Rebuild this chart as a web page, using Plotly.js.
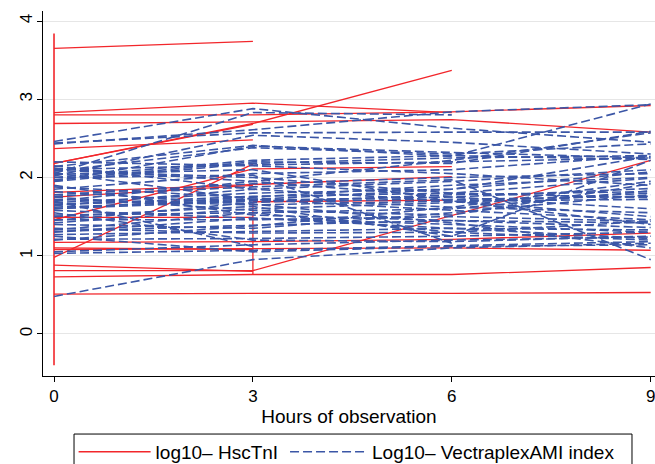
<!DOCTYPE html>
<html><head><meta charset="utf-8">
<script src="https://cdn.plot.ly/plotly-3.0.1.min.js"></script>
<style>html,body{margin:0;padding:0;background:#fff}#chart{width:655px;height:464px}</style>
</head><body><div id="chart"></div>
<script>
// Measurement hours
const hours = [0, 3, 6, 9];
const xTicks = [0, 3, 6, 9];
const yTicks = [0, 1, 2, 3, 4];
const xTitle = "Hours of observation";
const tnIName = "log10\u2013 HscTnI";
const vectraName = "Log10\u2013 VectraplexAMI index";

// log10 HscTnI per patient at hours 0,3,6,9 (null = not measured)
const tnIPatients = [
  [3.65, 3.74, null, null],
  [2.83, 2.95, 2.83, null],
  [2.80, 2.80, 2.84, 2.92],
  [2.69, 2.71, 2.74, 2.58],
  [2.18, 2.69, 3.37, null],
  [2.37, 2.48, null, null],
  [2.18, 2.68, null, null],
  [1.81, 1.91, 2.01, null],
  [1.75, 1.90, null, null],
  [0.98, 2.17, null, null],
  [1.46, 2.11, 2.14, null],
  [1.49, 1.49, null, null],
  [null, 1.69, 1.71, null],
  [1.17, 1.18, 1.21, 1.29],
  [1.08, 1.09, 1.10, 1.07],
  [1.10, 1.08, null, null],
  [0.88, 0.80, null, null],
  [0.81, 0.81, null, 2.22],
  [0.73, 0.76, 0.76, 0.85],
  [0.51, 0.52, 0.52, 0.53]
];
// consecutive single-time observations (connected in data order)
const tnIOnlyHour0 = [3.84, -0.40];
const tnIOnlyHour3 = [1.69, 0.76];

// log10 VectraplexAMI index per patient at hours 0,3,6,9
const vectraPatients = [
  [2.46, 2.88, 2.63, 2.45],
  [2.43, 2.61, 2.84, 2.93],
  [2.44, 2.57, 2.58, 2.58],
  [2.05, 2.83, 2.80, null],
  [2.14, 2.41, 2.27, 2.94],
  [2.08, 2.38, 2.30, 2.43],
  [1.97, 2.20, 2.18, 2.59],
  [1.95, 2.18, 2.25, 2.28],
  [2.10, 2.16, 2.20, 2.25],
  [2.02, 2.54, 2.45, 2.30],
  [2.00, 2.03, 1.16, null],
  [1.76, 1.88, 1.97, 0.95],
  [1.68, 1.80, 1.85, 2.07],
  [1.65, 1.76, 1.80, 1.99],
  [1.62, 1.71, 1.75, 1.86],
  [1.60, 1.70, 1.72, 1.76],
  [1.72, 1.65, 1.70, 1.72],
  [1.52, 1.55, 1.60, 1.83],
  [1.46, 1.46, 1.50, 1.44],
  [1.31, 1.39, 1.45, 1.42],
  [1.27, 1.31, 1.35, 1.33],
  [1.21, 1.22, 1.25, 1.30],
  [1.05, 1.14, 1.20, 1.24],
  [1.03, 1.07, 1.13, 1.18],
  [0.48, 0.95, 1.10, 1.16],
  [1.70, 1.12, null, null],
  [1.50, 1.63, 1.25, 2.22],
  [2.12, 1.95, 1.75, 1.60],
  [1.85, 2.05, 2.10, 2.28],
  [1.90, 1.52, 1.45, 1.36],
  [2.06, 1.72, 1.58, 1.46],
  [1.58, 1.48, 1.35, 1.22],
  [1.35, 1.29, 1.30, 1.20],
  [1.42, 1.60, 1.68, 1.80],
  [1.78, 1.92, 2.00, 2.05],
  [2.20, 2.15, 2.05, 1.90],
  [1.55, 1.20, 1.18, 1.25],
  [1.88, 1.74, 1.62, 1.55],
  [1.64, 1.85, 1.70, 1.50],
  [1.95, 2.40, 2.32, 2.25],
  [2.00, 2.22, 2.28, 2.23],
  [1.45, 1.68, 1.78, 1.82],
  [1.30, 1.48, 1.40, 1.30],
  [1.25, 1.05, 1.12, 1.14],
  [1.75, 1.58, 1.52, 1.92],
  [2.15, 1.85, 1.95, 2.10],
  [1.66, 1.72, 1.85, 2.27],
  [1.40, 1.35, 1.55, 1.78],
  [1.70, 1.95, 2.22, 2.57],
  [2.04, 2.10, 1.70, 1.40],
  [1.82, 1.66, 1.42, 1.10],
  [1.20, 1.38, 1.62, 1.95],
  [1.60, 1.75, 1.90, 2.00],
  [2.09, 2.00, 1.80, 1.74],
  [1.33, 1.55, 1.30, 1.44]
];

const RED = "#f2262b";
const BLUE = "#3b56a6";
const traces = [];

tnIPatients.forEach((v, i) => {
  traces.push({x: hours, y: v, type: "scatter", mode: "lines", connectgaps: true,
    line: {color: RED, width: 1.3}, name: tnIName, legend: "legend", legendgroup: "tni",
    showlegend: i === 0, hoverinfo: "skip"});
});
traces.push({x: tnIOnlyHour0.map(() => hours[0]), y: tnIOnlyHour0, type: "scatter", mode: "lines",
  line: {color: RED, width: 1.6}, legendgroup: "tni", showlegend: false, hoverinfo: "skip"});
traces.push({x: tnIOnlyHour3.map(() => hours[1]), y: tnIOnlyHour3, type: "scatter", mode: "lines",
  line: {color: RED, width: 1.3}, legendgroup: "tni", showlegend: false, hoverinfo: "skip"});

vectraPatients.forEach((v, i) => {
  traces.push({x: hours, y: v, type: "scatter", mode: "lines", connectgaps: true,
    line: {color: BLUE, width: 1.6, dash: "9px,4px"}, name: vectraName, legend: "legend2",
    legendgroup: "vec", showlegend: i === 0, hoverinfo: "skip"});
});

const FONT = "Liberation Sans, Arial, Helvetica, sans-serif";
const legendBase = {
  orientation: "h", y: -0.208, yanchor: "middle", xanchor: "left",
  borderwidth: 0, bgcolor: "rgba(0,0,0,0)",
  font: {size: 19, family: FONT}
};
const layout = {
  width: 655, height: 464,
  paper_bgcolor: "#fff", plot_bgcolor: "#fff",
  margin: {l: 43, r: 0, t: 11, b: 88, pad: 0, autoexpand: false},
  font: {family: FONT, size: 16, color: "#000"},
  showlegend: true,
  xaxis: {
    range: [-0.166, 9.065], tickvals: xTicks, ticktext: xTicks.map(String),
    showline: true, linecolor: "#000", linewidth: 1, ticks: "outside", ticklen: 5,
    tickcolor: "#000", showgrid: false, zeroline: false, ticklabeloverflow: "allow",
    tickfont: {size: 17, family: FONT},
    title: {text: xTitle, font: {size: 19, family: FONT}, standoff: 4}
  },
  yaxis: {
    range: [-0.537, 4.128], tickvals: yTicks, ticktext: yTicks.map(String),
    showline: true, linecolor: "#000", linewidth: 1, ticks: "outside", ticklen: 5,
    tickcolor: "#000", showgrid: true, gridcolor: "#e6e6e6", gridwidth: 1, zeroline: false,
    tickangle: -90, tickfont: {size: 17, family: FONT}, ticklabelstandoff: -2
  },
  legend: Object.assign({}, legendBase, {x: 0.050, itemwidth: 72}),
  legend2: Object.assign({}, legendBase, {x: 0.3955, itemwidth: 77}),
  shapes: [{
    type: "rect", xref: "paper", yref: "paper",
    x0: 0.0507, x1: 0.9624, y0: -0.159, y1: -0.40,
    line: {color: "#000", width: 1}, fillcolor: "rgba(0,0,0,0)", layer: "below"
  }]
};

Plotly.newPlot("chart", traces, layout, {staticPlot: true, displayModeBar: false});
</script>
</body></html>
